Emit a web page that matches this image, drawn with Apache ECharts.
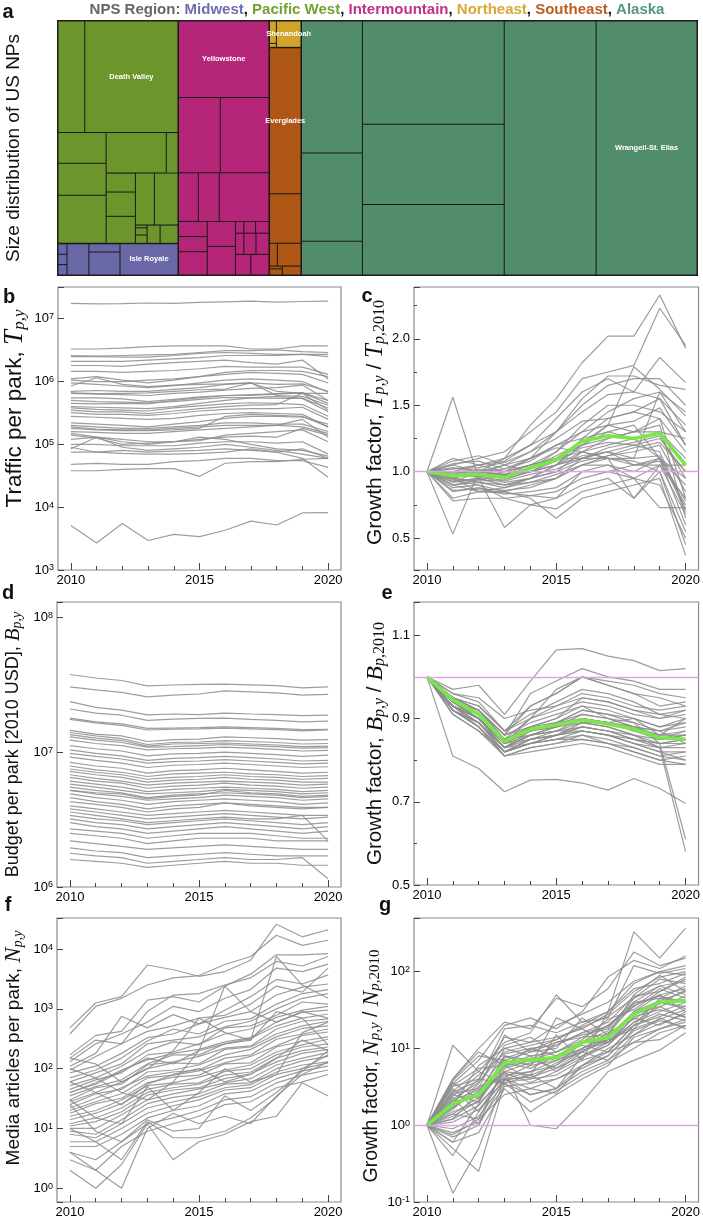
<!DOCTYPE html>
<html>
<head>
<meta charset="utf-8">
<script src="https://cdn.jsdelivr.net/npm/echarts@6.0.0/dist/echarts.min.js"></script>
<style>
  html, body { margin: 0; padding: 0; background: #fff; }
  #chart { width: 703px; height: 1219px; }
</style>
</head>
<body>
<div id="chart"></div>
<script>
// ---------- data ----------
var years = ['2010','2011','2012','2013','2014','2015','2016','2017','2018','2019','2020'];

// panel a: park sizes (relative area), grouped by NPS region
var pacificWestParks = [['',3024],['Death Valley',10528],['',1495],['',1560],['',2340],['',2470],['',480],['',560],['',720],['',800],['',1000],['',1240],['',33],['',85],['',98],['',240],['',330]];
var midwestParks = [['',96],['',96],['',96],['',700],['',260],['',736],['Isle Royale',1856]];
var intermountainParks = [['Yellowstone',7007],['',3192],['',3724],['',980],['',1029],['',2450],['',442],['',442],['',680],['',714],['',816],['',100],['',140],['',160],['',180],['',260],['',280],['',320],['',380]];
var northeastParks = [['',161],['',28],['Shenandoah',675]];
var southeastParks = [['Everglades',4704],['',1600],['',184],['',552],['',36],['',81],['',171]];
var alaskaParks = [['',8113],['',5429],['',2074],['',14768],['',11500],['',10082],['',23552],['Wrangell-St. Elias',25856]];

// panel b: traffic per park
var trafficLines = [
  [1.75e7,1.72e7,1.74e7,1.78e7,1.75e7,1.82e7,1.86e7,1.9e7,1.84e7,1.88e7,1.9e7],
  [3.3e6,3.3e6,3.4e6,3.6e6,3.7e6,3.7e6,3.7e6,3.3e6,3.3e6,3.7e6,3.7e6],
  [2.6e6,2.55e6,2.6e6,2.65e6,2.7e6,2.9e6,3.1e6,3.1e6,3.2e6,3.0e6,2.9e6],
  [2.5e6,2.5e6,2.45e6,2.45e6,2.6e6,2.8e6,2.9e6,2.8e6,2.7e6,2.7e6,2.5e6],
  [2.1e6,2.1e6,2.1e6,2.2e6,2.3e6,2.4e6,2.6e6,2.6e6,2.6e6,2.7e6,2.7e6],
  [1.8e6,1.8e6,1.75e6,1.9e6,2.0e6,2.1e6,2.2e6,2.0e6,1.9e6,2.2e6,1.1e6],
  [1.45e6,1.45e6,1.4e6,1.45e6,1.5e6,1.6e6,1.75e6,1.7e6,1.7e6,1.7e6,1.3e6],
  [1.1e6,1.2e6,1.05e6,9.5e5,1.05e6,1.2e6,1.4e6,1.5e6,1.5e6,1.45e6,1.2e6],
  [1.05e6,1.0e6,1.0e6,1.05e6,1.1e6,1.2e6,1.3e6,1.4e6,1.35e6,1.3e6,9.5e5],
  [9.5e5,9e5,8.5e5,8e5,8.6e5,9.5e5,1.05e6,1.1e6,1.05e6,1.0e6,6.8e5],
  [8.5e5,1.15e6,9e5,8.3e5,8.8e5,9e5,9.2e5,9.5e5,7e5,6.5e5,6.5e5],
  [7e5,7.2e5,7e5,7e5,7.5e5,8e5,9e5,9.5e5,9e5,9.2e5,7e5],
  [6.6e5,6.4e5,6.5e5,6.6e5,7e5,7.4e5,7.6e5,9.5e5,6e5,5.8e5,4.2e5],
  [6.5e5,6.3e5,6.2e5,6e5,6.5e5,6.8e5,7.3e5,7.8e5,8e5,8.8e5,5e5],
  [5.5e5,5.5e5,5.3e5,4.8e5,5.2e5,5.7e5,6e5,6e5,6.3e5,6.6e5,4.5e5],
  [5e5,4.8e5,4.7e5,4.6e5,4.8e5,5.2e5,5.6e5,5.5e5,5.4e5,5.4e5,3.8e5],
  [4.5e5,4.4e5,4.5e5,4.4e5,5.0e5,5.5e5,6.0e5,6.2e5,6.4e5,6.6e5,5.0e5],
  [4e5,3.9e5,3.8e5,3.7e5,4e5,4.5e5,5e5,5.5e5,5.8e5,5.4e5,3.3e5],
  [3.8e5,3.6e5,3.5e5,3.4e5,3.8e5,4.1e5,4.4e5,4.6e5,4.5e5,4.3e5,2.8e5],
  [3.5e5,3.3e5,3.3e5,3.1e5,3.4e5,3.7e5,4.0e5,4.2e5,4.3e5,6.5e5,3.5e5],
  [3.2e5,3.0e5,3.0e5,2.9e5,3.1e5,3.4e5,3.6e5,3.7e5,3.7e5,3.9e5,2.5e5],
  [2.8e5,2.7e5,2.6e5,2.5e5,2.6e5,2.9e5,3.1e5,3.2e5,3.1e5,3.0e5,1.9e5],
  [2.2e5,2.1e5,2.0e5,1.9e5,2.1e5,2.3e5,2.6e5,2.8e5,2.8e5,2.7e5,2.1e5],
  [2.0e5,1.9e5,1.8e5,1.8e5,1.9e5,2.0e5,2.2e5,2.2e5,2.1e5,2.1e5,1.6e5],
  [1.9e5,1.75e5,1.7e5,1.7e5,1.8e5,1.9e5,2.0e5,2.0e5,2.0e5,1.9e5,1.5e5],
  [1.8e5,1.7e5,1.65e5,1.65e5,1.7e5,1.8e5,2.8e5,3.0e5,2.9e5,2.8e5,1.9e5],
  [1.6e5,1.55e5,1.5e5,1.5e5,1.6e5,1.7e5,1.8e5,1.9e5,2.0e5,2.5e5,1.3e5],
  [1.5e5,1.3e5,1.2e5,1.1e5,1.1e5,1.2e5,1.3e5,1.35e5,1.3e5,1.8e5,1.4e5],
  [1.4e5,1.25e5,1.0e5,1.05e5,1.1e5,1.15e5,1.4e5,1.5e5,1.6e5,1.7e5,1.1e5],
  [1.2e5,1.3e5,9e4,8e4,8.5e4,9e4,1.0e5,9e4,8e4,7e4,6e4],
  [8.5e4,1.3e5,1.1e5,1.0e5,1.1e5,1.3e5,1.2e5,1.0e5,8.5e4,8e4,6.5e4],
  [1.0e5,1.0e5,9.5e4,9.5e4,9.5e4,1.05e5,1.1e5,1.1e5,1.05e5,1.1e5,7e4],
  [9e4,7.5e4,8e4,7.5e4,7.8e4,8e4,8.5e4,8e4,7.5e4,6e4,3e4],
  [7.5e4,7.5e4,7.2e4,7e4,7e4,7.2e4,7.5e4,8.5e4,7.5e4,8.5e4,6e4],
  [4.8e4,5.0e4,4.8e4,4.8e4,5.3e4,5.5e4,6.0e4,6.0e4,5.5e4,5.5e4,4.3e4],
  [3.8e4,3.8e4,4.0e4,4.1e4,4.1e4,3.1e4,5.0e4,5.3e4,5.3e4,5.8e4,6.0e4],
  [5.1e3,2.7e3,5.5e3,2.95e3,3.7e3,3.4e3,4.3e3,6e3,5.2e3,8.1e3,8.2e3]
];

// panel c: traffic growth factor
var trafficGrowthLines = [
  [1,0.95,1.0,1.1,1.35,1.55,1.82,2.02,2.02,2.33,1.93],
  [1,1.05,1.1,1.15,1.3,1.45,1.7,1.75,1.8,2.23,1.95],
  [1,1.02,1.05,1.08,1.2,1.4,1.6,1.7,1.6,1.86,1.67],
  [1,1.0,0.98,1.05,1.15,1.3,1.55,1.72,1.72,1.65,1.62],
  [1,0.98,1.02,1.0,1.1,1.3,1.5,1.65,1.7,1.7,1.5],
  [1,1.56,0.95,0.9,0.95,1.05,1.2,1.35,1.79,1.62,1.42],
  [1,0.53,1.0,0.98,1.0,1.05,1.1,1.15,1.2,1.15,0.72],
  [1,0.92,0.95,0.58,0.75,0.8,1.0,1.05,0.95,0.9,0.5],
  [1,0.97,1.0,0.98,1.05,1.15,1.35,1.5,1.5,1.45,1.3],
  [1,0.95,0.92,0.9,0.95,1.05,1.25,1.4,1.45,1.55,1.2],
  [1,1.05,1.0,1.02,1.1,1.2,1.3,1.35,1.3,1.4,0.8],
  [1,0.9,0.92,0.88,0.95,1.0,1.15,1.25,1.3,1.35,0.65],
  [1,0.93,0.95,0.9,0.92,0.98,1.05,1.1,1.1,1.12,0.7],
  [1,0.88,0.9,0.85,0.9,0.95,1.05,1.05,1.0,1.1,0.6],
  [1,1.08,1.12,1.05,1.0,1.05,1.15,1.2,1.25,1.3,1.1],
  [1,0.96,0.98,0.95,1.0,1.08,1.18,1.22,1.2,1.25,1.0],
  [1,0.9,0.85,0.88,0.92,0.95,1.1,1.1,1.05,1.08,0.75],
  [1,0.85,0.88,0.83,0.85,0.88,1.0,1.0,0.95,1.05,0.68],
  [1,0.8,0.85,0.84,0.82,0.8,0.9,0.95,0.8,1.0,0.55],
  [1,0.78,0.8,0.8,0.75,0.72,0.85,0.9,0.95,0.73,0.73],
  [1,0.95,0.85,0.85,0.8,0.65,0.8,0.85,0.9,0.95,0.37],
  [1,1.0,1.05,1.1,1.2,1.3,1.45,1.58,1.6,1.55,1.35],
  [1,1.02,1.03,1.07,1.15,1.25,1.38,1.4,1.45,1.4,1.15],
  [1,0.98,0.96,1.0,1.05,1.1,1.2,1.3,1.35,1.1,0.9],
  [1,0.95,0.93,0.94,1.0,1.05,1.12,1.15,1.05,1.05,0.8],
  [1,1.1,1.05,1.0,1.05,1.1,1.2,1.25,1.3,1.3,1.25],
  [1,0.9,0.94,0.97,1.0,1.1,1.15,1.1,1.08,1.0,0.45],
  [1,1.03,1.0,0.96,1.02,1.15,1.3,1.45,1.55,1.6,1.45],
  [1,0.97,0.96,0.92,0.95,1.0,1.08,1.12,1.15,1.2,0.85],
  [1,0.92,1.0,1.05,1.1,1.18,1.15,1.1,0.8,1.05,1.05],
  [1,1.06,1.08,1.02,1.08,1.2,1.25,1.3,1.25,1.1,0.95],
  [1,0.86,0.87,0.86,0.88,0.95,1.05,1.12,1.18,1.22,1.0],
  [1,0.99,1.0,0.97,1.03,1.12,1.22,1.35,1.38,1.48,1.2],
  [1,0.94,0.9,0.8,0.82,0.85,0.95,1.0,1.05,1.1,0.78],
  [1,1.0,1.01,1.0,1.05,1.1,1.1,1.15,1.1,1.6,1.3],
  [1,0.96,0.97,0.93,0.98,1.02,1.1,1.18,1.22,1.27,0.95]
];
var trafficGrowthMean = [1,0.97,0.98,0.955,1.03,1.09,1.23,1.27,1.25,1.29,1.05];

// panel d: budget per park (2010 USD)
var budgetLines = [
  [37.7e6,35.5e6,34.0e6,31.0e6,31.5e6,31.8e6,32.0e6,31.6e6,31.2e6,30.0e6,30.5e6],
  [30.5e6,29.0e6,27.8e6,25.7e6,26.5e6,27.0e6,28.5e6,28.0e6,27.5e6,26.5e6,26.8e6],
  [23.7e6,21.5e6,20.5e6,18.9e6,19.2e6,19.0e6,19.5e6,19.2e6,19.0e6,18.7e6,18.8e6],
  [20.9e6,19.5e6,18.8e6,17.2e6,17.6e6,17.8e6,17.9e6,17.5e6,17.2e6,16.8e6,17.0e6],
  [17.9e6,16.8e6,16.2e6,15.0e6,15.1e6,15.2e6,15.4e6,15.2e6,15.0e6,14.7e6,14.8e6],
  [17.5e6,16.5e6,15.8e6,14.6e6,14.8e6,14.9e6,15.1e6,14.9e6,14.7e6,14.4e6,14.6e6],
  [14.5e6,13.6e6,13.2e6,12.0e6,12.4e6,12.5e6,13.0e6,12.8e6,12.6e6,12.3e6,12.4e6],
  [14.0e6,13.2e6,12.6e6,11.4e6,11.8e6,11.9e6,12.2e6,12.0e6,11.8e6,11.5e6,11.6e6],
  [13.5e6,12.7e6,12.2e6,11.1e6,11.5e6,11.6e6,11.7e6,11.5e6,11.3e6,11.0e6,11.1e6],
  [13.0e6,12.3e6,11.8e6,10.9e6,11.0e6,11.2e6,11.4e6,11.2e6,11.0e6,10.7e6,10.8e6],
  [12.3e6,11.6e6,11.2e6,10.4e6,10.6e6,10.7e6,10.9e6,10.7e6,10.5e6,10.2e6,10.3e6],
  [11.2e6,10.6e6,10.2e6,9.4e6,9.7e6,9.8e6,10.0e6,9.8e6,9.6e6,9.3e6,9.5e6],
  [10.4e6,9.8e6,9.4e6,8.7e6,9.0e6,9.1e6,9.3e6,9.1e6,8.9e6,8.6e6,8.7e6],
  [9.8e6,9.3e6,8.9e6,8.3e6,8.5e6,8.6e6,8.8e6,8.6e6,8.4e6,8.2e6,8.3e6],
  [9.2e6,8.7e6,8.3e6,7.7e6,8.0e6,8.1e6,8.3e6,8.1e6,7.9e6,7.7e6,7.8e6],
  [8.4e6,7.9e6,7.6e6,7.0e6,7.3e6,7.4e6,7.6e6,7.4e6,7.2e6,7.0e6,7.1e6],
  [7.9e6,7.4e6,7.1e6,6.6e6,6.9e6,7.0e6,7.1e6,6.9e6,6.8e6,6.6e6,6.7e6],
  [7.5e6,7.1e6,6.8e6,6.3e6,6.5e6,6.6e6,6.8e6,6.6e6,6.5e6,6.3e6,6.4e6],
  [7.2e6,6.8e6,6.5e6,6.0e6,6.2e6,6.3e6,6.5e6,6.3e6,6.2e6,6.0e6,6.0e6],
  [6.8e6,6.4e6,6.1e6,5.7e6,5.9e6,6.0e6,6.1e6,6.0e6,5.9e6,5.7e6,5.8e6],
  [6.5e6,6.1e6,5.9e6,5.4e6,5.6e6,5.7e6,5.9e6,5.7e6,5.6e6,5.4e6,5.5e6],
  [6.1e6,5.8e6,5.5e6,5.1e6,5.3e6,5.4e6,5.5e6,5.4e6,5.3e6,5.1e6,5.2e6],
  [5.8e6,5.5e6,5.2e6,4.9e6,5.0e6,5.1e6,5.3e6,5.2e6,5.1e6,4.9e6,5.0e6],
  [5.5e6,5.2e6,5.0e6,4.6e6,4.8e6,4.9e6,5.0e6,4.9e6,4.8e6,4.6e6,4.7e6],
  [5.2e6,5.0e6,4.9e6,4.5e6,4.7e6,4.8e6,5.2e6,5.0e6,4.9e6,4.7e6,4.8e6],
  [5.2e6,4.9e6,4.7e6,4.4e6,4.5e6,4.6e6,4.8e6,4.7e6,4.6e6,4.4e6,4.5e6],
  [4.9e6,4.6e6,4.4e6,4.1e6,4.3e6,4.4e6,4.5e6,4.4e6,4.3e6,4.1e6,4.2e6],
  [4.6e6,4.3e6,4.1e6,3.8e6,4.0e6,4.1e6,4.2e6,4.1e6,4.0e6,3.9e6,3.9e6],
  [4.3e6,4.1e6,3.9e6,3.6e6,3.8e6,3.9e6,4.2e6,4.0e6,3.9e6,3.8e6,3.9e6],
  [4.0e6,3.8e6,3.6e6,3.4e6,3.5e6,3.6e6,3.7e6,3.6e6,3.5e6,3.4e6,3.4e6],
  [3.8e6,3.6e6,3.4e6,3.2e6,3.3e6,3.4e6,3.5e6,3.4e6,3.3e6,3.2e6,3.3e6],
  [3.6e6,3.4e6,3.2e6,3.0e6,3.1e6,3.2e6,3.3e6,3.2e6,3.2e6,3.4e6,2.2e6],
  [3.4e6,3.2e6,3.1e6,2.9e6,3.0e6,3.1e6,3.2e6,3.1e6,3.0e6,2.9e6,3.0e6],
  [3.2e6,3.0e6,2.9e6,2.7e6,2.8e6,2.9e6,3.0e6,2.9e6,2.8e6,2.7e6,2.8e6],
  [3.0e6,2.8e6,2.7e6,2.5e6,2.6e6,2.7e6,2.8e6,2.7e6,2.6e6,2.5e6,2.6e6],
  [2.7e6,2.6e6,2.5e6,2.3e6,2.4e6,2.5e6,2.5e6,2.5e6,2.4e6,2.3e6,2.3e6],
  [2.5e6,2.4e6,2.3e6,2.1e6,2.2e6,2.3e6,2.3e6,2.3e6,2.2e6,2.2e6,2.2e6],
  [2.2e6,2.1e6,2.0e6,1.9e6,1.95e6,2.0e6,2.05e6,2.0e6,1.95e6,1.9e6,1.9e6],
  [1.95e6,1.85e6,1.8e6,1.65e6,1.7e6,1.75e6,1.8e6,1.75e6,1.7e6,1.7e6,1.7e6],
  [1.78e6,1.7e6,1.65e6,1.5e6,1.55e6,1.6e6,1.65e6,1.6e6,1.6e6,1.65e6,1.15e6],
  [1.6e6,1.55e6,1.5e6,1.4e6,1.45e6,1.5e6,1.55e6,1.5e6,1.5e6,1.45e6,1.45e6]
];

// panel e: budget growth factor
var budgetGrowthLines = [
  [1,0.97,0.98,0.91,0.99,1.065,1.068,1.05,1.039,1.015,1.02],
  [1,0.81,0.78,0.724,0.752,0.754,0.745,0.728,0.756,0.732,0.696],
  [1,0.95,0.92,0.86,0.96,0.99,1.02,1.0,0.99,0.97,0.97],
  [1,0.95,0.93,0.87,0.93,0.96,1.0,0.99,0.98,0.96,0.95],
  [1,0.94,0.91,0.85,0.9,0.93,0.96,0.95,0.93,0.92,0.93],
  [1,0.945,0.91,0.845,0.88,0.9,0.95,0.94,0.92,0.9,0.91],
  [1,0.93,0.9,0.83,0.87,0.89,0.92,0.91,0.9,0.88,0.89],
  [1,0.94,0.9,0.84,0.86,0.88,0.9,0.89,0.88,0.86,0.87],
  [1,0.93,0.89,0.82,0.85,0.87,0.89,0.88,0.86,0.84,0.85],
  [1,0.92,0.88,0.82,0.84,0.86,0.88,0.87,0.85,0.83,0.84],
  [1,0.93,0.89,0.83,0.86,0.87,0.87,0.86,0.84,0.82,0.82],
  [1,0.92,0.88,0.81,0.83,0.84,0.86,0.85,0.83,0.81,0.8],
  [1,0.91,0.87,0.81,0.82,0.83,0.84,0.83,0.81,0.79,0.79],
  [1,0.94,0.9,0.85,0.88,0.9,0.93,0.92,0.9,0.88,0.9],
  [1,0.96,0.94,0.87,0.9,0.92,0.94,0.93,0.91,0.9,0.92],
  [1,0.95,0.92,0.86,0.89,0.91,0.93,0.9,0.88,0.85,0.86],
  [1,0.93,0.91,0.84,0.87,0.88,0.91,0.9,0.89,0.87,0.88],
  [1,0.94,0.92,0.85,0.87,0.89,0.92,0.91,0.89,0.84,0.61],
  [1,0.93,0.9,0.83,0.85,0.86,0.88,0.87,0.86,0.83,0.58],
  [1,0.92,0.89,0.83,0.86,0.87,0.9,0.89,0.87,0.85,0.87],
  [1,0.93,0.9,0.84,0.9,0.97,1.0,0.98,0.96,0.93,0.94],
  [1,0.91,0.87,0.82,0.84,0.85,0.86,0.84,0.82,0.8,0.81],
  [1,0.95,0.92,0.86,0.88,0.89,0.9,0.89,0.88,0.87,0.84],
  [1,0.94,0.9,0.85,0.87,0.88,0.89,0.88,0.86,0.85,0.86],
  [1,0.93,0.89,0.82,0.84,0.85,0.87,0.86,0.84,0.83,0.83],
  [1,0.92,0.88,0.81,0.83,0.84,0.85,0.84,0.82,0.8,0.79],
  [1,0.95,0.93,0.87,0.91,0.94,0.97,0.96,0.94,0.91,0.92],
  [1,0.94,0.91,0.84,0.87,0.89,0.91,0.9,0.88,0.87,0.89],
  [1,0.93,0.9,0.83,0.86,0.88,0.9,0.89,0.87,0.86,0.86],
  [1,0.94,0.92,0.85,0.86,0.87,0.88,0.87,0.85,0.84,0.85],
  [1,0.92,0.89,0.82,0.85,0.86,0.89,0.89,0.9,0.86,0.9],
  [1,0.96,0.95,0.9,0.92,0.93,0.95,0.94,0.92,0.91,0.9],
  [1,0.93,0.88,0.82,0.84,0.86,0.87,0.86,0.84,0.82,0.8],
  [1,0.95,0.92,0.86,0.93,0.96,1.0,0.98,0.96,0.95,0.93],
  [1,0.92,0.89,0.83,0.84,0.85,0.85,0.84,0.83,0.81,0.82],
  [1,0.93,0.9,0.84,0.85,0.86,0.87,0.86,0.85,0.84,0.84]
];
var budgetGrowthMean = [1,0.945,0.91,0.845,0.874,0.885,0.897,0.887,0.875,0.854,0.85];

// panel f: media articles per park
var mediaLines = [
  [480,1250,1600,5400,4500,3500,4200,6500,26000,16000,21000],
  [380,1100,1500,2500,3300,3600,5500,7500,17000,11500,14000],
  [170,360,420,1400,1600,1300,2400,3800,8000,8000,8400],
  [150,300,260,900,1700,1800,2500,3300,6200,5200,7500],
  [130,260,380,600,1100,900,1500,2100,4800,4200,5600],
  [110,180,750,480,800,560,950,1600,3100,2600,3700],
  [95,160,260,420,520,700,780,1200,2400,1900,4800],
  [85,110,180,330,380,560,720,900,1700,2300,2600],
  [70,95,150,290,460,380,620,680,1200,1800,2100],
  [60,85,120,260,300,340,500,620,1000,1500,1800],
  [52,70,110,200,280,250,480,520,780,1300,1200],
  [45,65,85,170,190,260,380,460,720,950,1100],
  [40,58,95,140,180,210,280,330,600,880,950],
  [35,50,65,120,170,170,260,320,520,700,820],
  [30,48,55,115,130,160,220,240,460,620,680],
  [28,40,60,100,125,120,210,230,380,520,620],
  [25,38,45,88,95,115,170,210,340,470,520],
  [22,32,48,75,88,95,150,170,310,380,460],
  [20,28,38,70,78,92,125,160,240,360,410],
  [18,26,32,58,72,78,120,125,230,290,340],
  [16,20,30,52,58,72,95,115,190,250,310],
  [14,18,26,45,55,58,90,100,170,230,260],
  [12,15,22,40,48,55,78,88,150,200,230],
  [11,13,19,36,44,48,68,82,130,180,210],
  [10,10,17,30,38,46,58,68,115,150,185],
  [9,8,14,26,33,38,55,58,100,135,160],
  [8,7,12,22,28,34,48,54,88,115,130],
  [6,6,10,18,24,30,44,48,80,100,125],
  [5,5,8,15,20,24,38,42,68,92,110],
  [4,3,6,12,15,20,30,34,58,78,95],
  [3,2,5,9,12,16,25,28,48,60,80],
  [2,1,2.5,12,3,6,8,13,16,58,35],
  [4,2,1,10,18,12,16,12,35,80,130],
  [10,6,3,13,7,7,9,15,33,100,170],
  [25,9,6,14,9,10,35,20,40,90,200],
  [40,55,90,150,120,200,260,300,7500,2500,1500],
  [100,70,40,30,60,200,2400,900,600,900,700],
  [150,120,60,100,200,700,400,300,900,700,250],
  [60,40,25,55,80,100,60,80,150,300,200],
  [30,15,12,50,20,40,100,60,80,400,600]
];

// panel g: media growth factor
var mediaGrowthLines = [
  [1,11,5,3.5,4.5,15,7,30,330,150,370],
  [1,4,10,22,18,45,35,60,180,120,150],
  [1,3.5,7,20,25,18,30,85,140,110,160],
  [1,2.8,5,12,16,50,22,25,120,95,110],
  [1,3.2,4,14,12,20,28,40,75,100,90],
  [1,2.2,3.6,9,11,13,20,30,60,70,95],
  [1,1.7,2.8,8,7,11,16,22,48,55,80],
  [1,2.5,2,6,8,9,14,15,40,45,65],
  [1,1.4,2.3,5,6.5,7.5,10,13,30,42,55],
  [1,1.2,1.8,4.5,5,6,12,12,28,35,48],
  [1,3,1.5,4,4.2,5.5,8,11,22,30,40],
  [1,0.9,1.3,3.6,4,4.5,7,9,20,26,36],
  [1,0.8,1.1,3.2,3.5,4,6,8,18,24,32],
  [1,0.7,1,4,2.5,3,5,7,15,21,28],
  [1,0.6,0.8,3,1.5,2.5,4,6,14,18,24],
  [1,0.5,0.25,3.5,2,2.8,4.5,6.5,10,16,20],
  [1,0.13,0.5,4,3,2.6,6,9,12,13,20],
  [1,0.4,1.5,5,1,0.9,2,5,7,9.5,16],
  [1,2,4,3.5,2.5,3,8,12,25,20,30],
  [1,1.8,6,10,8,5,9,14,30,50,60],
  [1,4,9,6,10,8,12,20,35,60,45],
  [1,3.8,8,7,6,12,15,18,45,80,70],
  [1,2.6,3,15,9,10,25,15,50,90,55],
  [1,1.5,2,8,6,25,18,12,22,35,25],
  [1,2,2.5,5,4.5,3,6,10,15,25,18],
  [1,1.6,3.2,4,5,7,9,7,12,18,22],
  [1,1.1,1.6,3.8,4.5,6,10,16,24,40,35],
  [1,2.3,1,6.5,5.5,8,11,9,20,45,42],
  [1,1.3,2.1,7,9,12,14,20,40,65,50],
  [1,0.75,1.2,5.5,7,9,12,17,36,50,30],
  [1,2.7,3.8,18,20,16,22,30,70,100,120],
  [1,1.9,2.4,10,12,14,18,28,55,85,100],
  [1,3.3,5.5,6,4,6.5,9,13,18,40,33],
  [1,2.1,2.9,4.8,3.6,5,7.5,11,26,32,26],
  [1,1.4,1.2,2.5,3,4,5.5,8,17,23,19],
  [1,1.7,3.5,11,14,9,13,24,32,55,85],
  [1,0.6,1.9,4.2,6,7,10,14,28,38,58],
  [1,2.4,4.5,8.5,10,11,16,19,38,48,40],
  [1,1.2,2.7,5.8,7.5,5.5,9.5,12,20,28,23],
  [1,3.6,2.2,7.5,9.5,13,19,26,45,65,75]
];
var mediaGrowthMean = [1,1.9,2.5,6.5,7.1,7.6,12,14,28,40,42];

// ---------- styles ----------
var SANS = '"Liberation Sans", Arial, sans-serif';
var SERIF = '"Liberation Serif", "Times New Roman", serif';
var GRAY = 'rgba(140,140,140,0.85)';
var GREEN = '#79e64a';
var PINK = '#dba4e8';
var regionStyle = {
  'Midwest':       {color: '#6b68a8', text: '#6f6db0'},
  'Pacific West':  {color: '#6c952c', text: '#74a232'},
  'Intermountain': {color: '#b52679', text: '#c3308a'},
  'Northeast':     {color: '#d1a32a', text: '#d9a836'},
  'Southeast':     {color: '#ae5616', text: '#bb5f1e'},
  'Alaska':        {color: '#518c6b', text: '#55977a'}
};

// order chosen so the squarified layout stacks regions in columns as in the figure
var regionData = [
  ['Pacific West', pacificWestParks],
  ['Midwest', midwestParks],
  ['Intermountain', intermountainParks],
  ['Northeast', northeastParks],
  ['Southeast', southeastParks],
  ['Alaska', alaskaParks]
];

var grids = [
  {left: 57,  top: 287, width: 284, height: 283},
  {left: 414, top: 287, width: 286, height: 283},
  {left: 57,  top: 602, width: 284, height: 285},
  {left: 414, top: 602, width: 286, height: 283},
  {left: 57,  top: 918, width: 284, height: 285},
  {left: 414, top: 918, width: 286, height: 285}
];

function logLabel(v) {
  var l = Math.log10(v), e = Math.round(l);
  if (Math.abs(l - e) > 1e-6) return '';
  return '{b|10}{s|' + e + '}';
}
var tickRich = {
  b: {fontFamily: SANS, fontSize: 13, color: '#000', verticalAlign: 'bottom'},
  s: {fontFamily: SANS, fontSize: 9, color: '#000', verticalAlign: 'top'}
};
function nameRich(size) {
  var sub = Math.round(size * 0.76), pad = Math.round(size * 0.43);
  return {
    t: {fontFamily: SANS, fontSize: size, color: '#111'},
    m: {fontFamily: SERIF, fontStyle: 'italic', fontSize: Math.round(size * 1.19), color: '#111'},
    s: {fontFamily: SERIF, fontStyle: 'italic', fontSize: sub, color: '#111', verticalAlign: 'bottom', padding: [pad, 0, 0, 0]},
    n: {fontFamily: SERIF, fontSize: sub, color: '#111', verticalAlign: 'bottom', padding: [pad, 0, 0, 0]}
  };
}

// shift: padding along the rotated name, positive moves the text up the page
var yAxes = [
  {type: 'log', min: 1e3, max: 3.2e7, name: '{t|Traffic per park, }{m|T}{s|p,y}', fmt: logLabel, gap: 30, font: 22.5, shift: 20},
  {type: 'value', min: 0.26, max: 2.39, name: '{t|Growth factor, }{m|T}{s|p,y}{t| / }{m|T}{s|p,}{n|2010}', gap: 26, font: 21, shift: 6,
   fmt: function (v) { return Math.abs(v * 2 - Math.round(v * 2)) < 1e-6 ? v.toFixed(1) : ''; }, minor: true},
  {type: 'log', min: 1e6, max: 1.3e8, name: '{t|Budget per park [2010 USD], }{m|B}{s|p,y}', fmt: logLabel, gap: 33, font: 18, shift: 0},
  {type: 'value', min: 0.5, max: 1.18, interval: 0.2, name: '{t|Growth factor, }{m|B}{s|p,y}{t| / }{m|B}{s|p,}{n|2010}', gap: 26, font: 20.5, shift: 0,
   fmt: function (v) { return v > 1.15 ? '' : v.toFixed(1); }, minor: true},
  {type: 'log', min: 0.59, max: 33000, name: '{t|Media articles per park, }{m|N}{s|p,y}', fmt: logLabel, gap: 32, font: 19, shift: 12},
  {type: 'log', min: 0.1, max: 500, name: '{t|Growth factor, }{m|N}{s|p,y}{t| / }{m|N}{s|p,}{n|2010}', fmt: logLabel, gap: 31, font: 19.5, shift: -6}
];

var option = {
  animation: false,
  backgroundColor: '#fff',
  grid: [],
  xAxis: [],
  yAxis: [],
  series: [],
  graphic: []
};

grids.forEach(function (g, i) {
  option.grid.push({left: g.left, top: g.top, width: g.width, height: g.height, show: true,
    borderColor: '#8a8a8a', borderWidth: 1.2, backgroundColor: 'transparent'});
  // minor year ticks
  option.xAxis.push({type: 'category', gridIndex: i, position: 'bottom', data: years, boundaryGap: true,
    axisLine: {show: false}, axisLabel: {show: false}, splitLine: {show: false},
    axisTick: {show: true, inside: true, length: 4, interval: 0, alignWithLabel: true, lineStyle: {color: '#444'}}});
  // labelled ticks
  option.xAxis.push({type: 'category', gridIndex: i, position: 'bottom', data: years, boundaryGap: true,
    axisLine: {show: false}, splitLine: {show: false},
    axisLabel: {interval: 4, fontFamily: SANS, fontSize: 13, color: '#000', margin: 4},
    axisTick: {show: true, inside: true, length: 7, interval: 4, alignWithLabel: true, lineStyle: {color: '#444'}}});
  var y = yAxes[i];
  var pad = y.shift > 0 ? [0, 0, 0, 2 * y.shift] : [0, -2 * y.shift, 0, 0];
  var ya = {type: y.type, gridIndex: i, position: 'left', min: y.min, max: y.max,
    name: y.name, nameLocation: 'middle', nameGap: y.gap, nameRotate: 90,
    nameTextStyle: {rich: nameRich(y.font), padding: pad},
    axisLine: {show: false}, splitLine: {show: false},
    axisTick: {show: true, inside: true, length: 6, lineStyle: {color: '#444'}},
    axisLabel: {formatter: y.fmt, margin: 4, fontFamily: SANS, fontSize: 13, color: '#000', rich: tickRich}};
  if (y.type === 'log') ya.logBase = 10;
  if (y.interval) ya.interval = y.interval;
  if (y.minor) { ya.minorTick = {show: true, splitNumber: 2, length: 3, lineStyle: {color: '#444'}}; }
  option.yAxis.push(ya);
});

function addPanel(i, lines, mean) {
  if (mean) {
    option.series.push({type: 'line', xAxisIndex: i * 2 + 1, yAxisIndex: i, data: [], z: 1, silent: true,
      markLine: {silent: true, symbol: 'none', label: {show: false},
        lineStyle: {color: PINK, width: 1.3, type: 'solid'}, data: [{yAxis: 1}]}});
  }
  lines.forEach(function (d) {
    option.series.push({type: 'line', xAxisIndex: i * 2 + 1, yAxisIndex: i, data: d,
      showSymbol: false, symbol: 'none', silent: true, z: 2,
      lineStyle: {color: GRAY, width: 1.2}});
  });
  if (mean) {
    option.series.push({type: 'line', xAxisIndex: i * 2 + 1, yAxisIndex: i, data: mean,
      showSymbol: false, symbol: 'none', silent: true, z: 3,
      lineStyle: {color: GREEN, width: 3.6}});
  }
}
addPanel(0, trafficLines);
addPanel(1, trafficGrowthLines, trafficGrowthMean);
addPanel(2, budgetLines);
addPanel(3, budgetGrowthLines, budgetGrowthMean);
addPanel(4, mediaLines);
addPanel(5, mediaGrowthLines, mediaGrowthMean);

// panel a treemap
option.series.push({
  type: 'treemap', left: 57, top: 20, width: 641, height: 256,
  roam: false, nodeClick: false, breadcrumb: {show: false},
  sort: false, squareRatio: 1.5, visibleMin: 0, silent: true,
  label: {show: true, position: 'inside', color: '#fff', fontSize: 7.5, fontWeight: 'bold',
    fontFamily: SANS, overflow: 'none'},
  upperLabel: {show: false},
  levels: [
    {itemStyle: {borderColor: '#1c1c1c', borderWidth: 1.5, gapWidth: 1.5}},
    {itemStyle: {borderColor: 'rgba(25,25,25,0.85)', borderWidth: 0, gapWidth: 1}},
    {itemStyle: {borderColor: 'rgba(25,25,25,0.85)', borderWidth: 0, gapWidth: 0}}
  ],
  data: regionData.map(function (r) {
    return {
      name: r[0],
      itemStyle: {color: regionStyle[r[0]].color},
      children: r[1].map(function (p) { return {name: p[0], value: p[1]}; })
    };
  })
});

// title with region colour key
var titleText = '{g|NPS Region: }';
var titleRich = {g: {fill: '#666', font: 'bold 15px ' + SANS}, k: {fill: '#111', font: 'bold 15px ' + SANS}};
['Midwest', 'Pacific West', 'Intermountain', 'Northeast', 'Southeast', 'Alaska'].forEach(function (n, i) {
  var key = 'r' + i;
  titleRich[key] = {fill: regionStyle[n].text, font: 'bold 15px ' + SANS};
  titleText += '{' + key + '|' + n + '}' + (i < 5 ? '{k|, }' : '');
});
option.graphic.push({type: 'text', x: 377, y: 10, silent: true,
  style: {text: titleText, rich: titleRich, align: 'center', verticalAlign: 'middle', font: 'bold 15px ' + SANS}});

option.graphic.push({type: 'text', x: 14, y: 148, rotation: Math.PI / 2, silent: true,
  style: {text: 'Size distribution of US NPs', align: 'center', verticalAlign: 'middle',
    font: '19px ' + SANS, fill: '#111'}});

[['a', 8, 12], ['b', 9, 297], ['c', 367, 296], ['d', 8, 593], ['e', 387, 593], ['f', 8, 905], ['g', 385, 905]].forEach(function (l) {
  option.graphic.push({type: 'text', x: l[1], y: l[2], silent: true,
    style: {text: l[0], align: 'center', verticalAlign: 'middle', font: 'bold 20px ' + SANS, fill: '#111'}});
});

var chart = echarts.init(document.getElementById('chart'), null, {renderer: 'canvas'});
chart.setOption(option);
</script>
</body>
</html>
